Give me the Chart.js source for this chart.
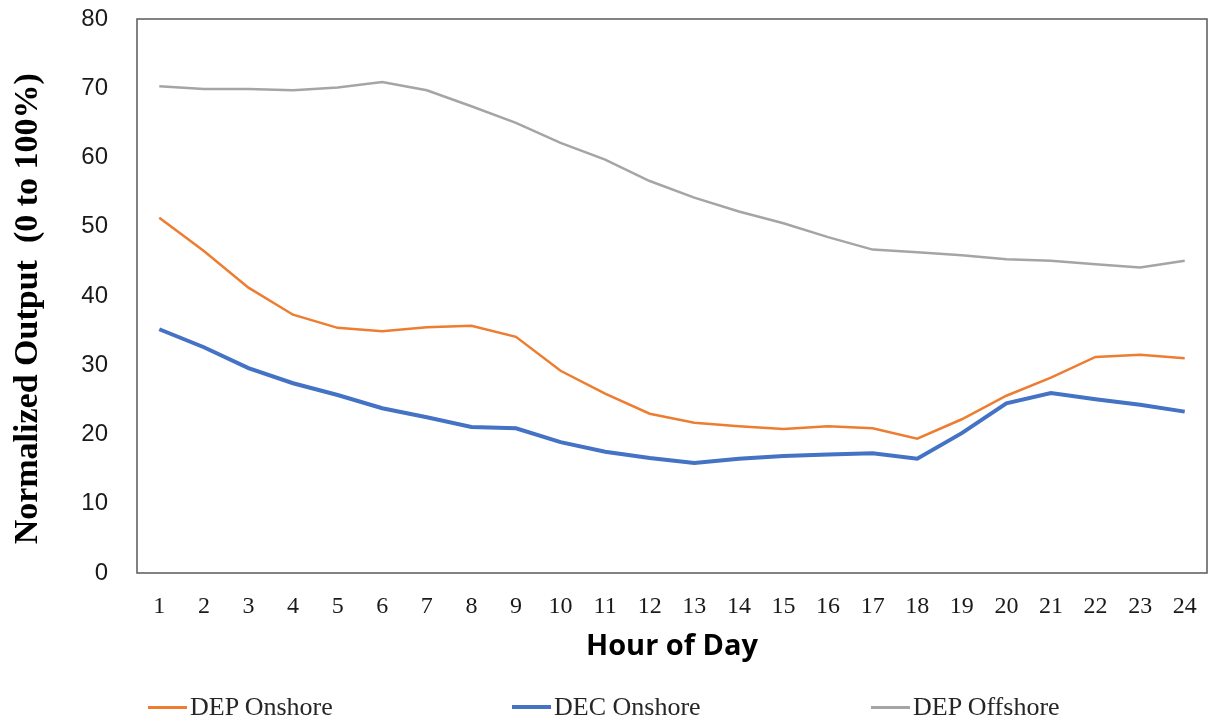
<!DOCTYPE html>
<html>
<head>
<meta charset="utf-8">
<script src="https://cdn.jsdelivr.net/npm/chart.js@4.4.1/dist/chart.umd.min.js"></script>
<style>
  html, body { margin: 0; padding: 0; background: #fff; }
  #wrap { position: relative; width: 1216px; height: 724px; }
  #legend { position: absolute; left: 0; top: 692px; width: 1216px; height: 30px;
            font-family: 'Liberation Serif', 'Times New Roman', serif; font-size: 26px; color: #262626; }
  .item { position: absolute; top: 0; display: flex; align-items: center; height: 30px; white-space: nowrap; }
  .item span.sw { display: inline-block; width: 39px; margin-right: 3px; }
</style>
</head>
<body>
<div id="wrap">
  <canvas id="c" width="1216" height="724"></canvas>
  <div id="legend"></div>
</div>
<script>
'use strict';

/* ── Datos ── */
const hours = ['1','2','3','4','5','6','7','8','9','10','11','12','13','14','15','16','17','18','19','20','21','22','23','24'];

const depOnshore  = [51.3, 46.5, 41.2, 37.3, 35.4, 34.9, 35.5, 35.7, 34.1, 29.2, 25.9, 23.0,
                     21.7, 21.2, 20.8, 21.2, 20.9, 19.4, 22.2, 25.6, 28.2, 31.2, 31.5, 31.0];
const decOnshore  = [35.2, 32.6, 29.6, 27.4, 25.7, 23.8, 22.5, 21.1, 20.9, 18.9, 17.5, 16.6,
                     15.9, 16.5, 16.9, 17.1, 17.3, 16.5, 20.2, 24.5, 26.0, 25.1, 24.3, 23.3];
const depOffshore = [70.3, 69.9, 69.9, 69.7, 70.1, 70.9, 69.7, 67.4, 65.0, 62.1, 59.7, 56.6,
                     54.2, 52.2, 50.5, 48.5, 46.7, 46.3, 45.9, 45.3, 45.1, 44.6, 44.1, 45.1];

const yTicks = [0, 10, 20, 30, 40, 50, 60, 70, 80];

const series = [
  { label: 'DEP Onshore',  data: depOnshore,  color: '#ED7D31', width: 2.5, left: 148 },
  { label: 'DEC Onshore',  data: decOnshore,  color: '#4472C4', width: 4,   left: 512 },
  { label: 'DEP Offshore', data: depOffshore, color: '#A5A5A5', width: 2.5, left: 871 }
];

/* ── Marco del área de trazado ── */
const frame = {
  id: 'frame',
  afterDatasetsDraw(chart) {
    const a = chart.chartArea, ctx = chart.ctx;
    ctx.save();
    ctx.strokeStyle = '#595959';
    ctx.lineWidth = 1.5;
    ctx.strokeRect(a.left, a.top, a.right - a.left, a.bottom - a.top);
    ctx.restore();
  }
};

new Chart(document.getElementById('c'), {
  type: 'line',
  data: {
    labels: hours,
    datasets: series.map(s => ({
      label: s.label, data: s.data,
      borderColor: s.color, backgroundColor: s.color,
      borderWidth: s.width, pointRadius: 0, tension: 0, fill: false
    }))
  },
  options: {
    responsive: false,
    animation: false,
    devicePixelRatio: 1,
    layout: { padding: { top: 19, right: 9, bottom: 60, left: 0 } },
    plugins: { legend: { display: false }, tooltip: { enabled: false } },
    scales: {
      x: {
        offset: true,
        grid: { display: false, drawTicks: false },
        border: { display: false },
        ticks: { padding: 19, color: '#1a1a1a', maxRotation: 0, autoSkip: false,
                 font: { family: "'Liberation Serif', serif", size: 24 } },
        title: { display: true, text: 'Hour of Day', color: '#000',
                 padding: { top: 0, bottom: 0 },
                 font: { family: "'Open Sans', 'Noto Sans', sans-serif", size: 29, weight: 'bold' } },
        afterFit(s) { s.height = 91; }
      },
      y: {
        min: 0, max: 80,
        afterBuildTicks(s) { s.ticks = yTicks.map(v => ({ value: v })); },
        grid: { display: false, drawTicks: false },
        border: { display: false },
        ticks: { padding: 29, color: '#1a1a1a',
                 font: { family: "'Liberation Sans Narrow', 'Liberation Sans', sans-serif", size: 24 } },
        title: { display: true, text: 'Normalized Output  (0 to 100%)   ', color: '#000',
                 padding: { top: 8, bottom: 0 },
                 font: { family: "'Liberation Serif', serif", size: 34, weight: 'bold' } },
        afterFit(s) { s.width = 137; s.paddingTop = 0; s.paddingBottom = 0; }
      }
    }
  },
  plugins: [frame]
});

/* ── Leyenda ── */
const legend = document.getElementById('legend');
series.forEach(s => {
  const el = document.createElement('div');
  el.className = 'item';
  el.style.left = s.left + 'px';
  el.innerHTML = `<span class="sw" style="height:${Math.round(s.width)}px;background:${s.color}"></span>${s.label}`;
  legend.appendChild(el);
});
</script>
</body>
</html>
